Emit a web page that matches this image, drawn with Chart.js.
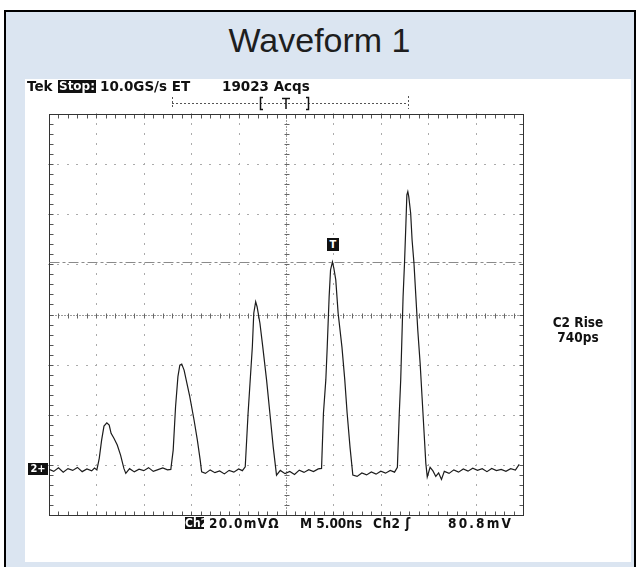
<!DOCTYPE html>
<html>
<head>
<meta charset="utf-8">
<script src="https://cdn.jsdelivr.net/npm/chart.js@4.4.0/dist/chart.umd.min.js"></script>
<style>
  html, body { margin: 0; padding: 0; background: #fff; }
  #page { position: relative; width: 639px; height: 567px; overflow: hidden; }
  #frame { position: absolute; left: 4px; top: 10px; width: 628px; height: 560px;
           background: #dbe5f1; border: 2px solid #000; border-bottom: none; }
  #panel { position: absolute; left: 25px; top: 79px; width: 606px; height: 483px; background: #fff; }
  #title { position: absolute; left: 0; width: 639px; top: 23px; text-align: center;
           font: 34px/34px "Liberation Sans", Arial, sans-serif; color: #1e1e1e; }
  canvas { position: absolute; left: 0; top: 0; }
  .lbl { position: absolute; white-space: nowrap; line-height: 14px; color: #111; }
  .top { font: bold 13.5px/14px "DejaVu Sans", sans-serif; }
  .bot { font: bold 13.5px/14px "DejaVu Sans Condensed", "DejaVu Sans", sans-serif; }
  .inv { background: #111; color: #fff; text-align: center; }
</style>
</head>
<body>
<div id="page">
  <div id="frame"></div>
  <div id="panel"></div>
  <div id="title">Waveform 1</div>
  <canvas id="scope" width="639" height="567"></canvas>

  <div class="lbl top" style="left:27px;top:79px;">Tek</div>
  <div class="lbl top inv" style="left:58px;top:80px;width:38px;height:13px;font-size:12px;line-height:13px;">Stop:</div>
  <div class="lbl top" style="left:100px;top:79px;">10.0GS/s ET</div>
  <div class="lbl top" style="left:222px;top:79px;">19023 Acqs</div>

  <div class="lbl bot inv" style="left:185px;top:517px;width:19px;height:12px;font-size:12px;line-height:12px;">Ch2</div>
  <div class="lbl bot" style="left:209px;top:516px;letter-spacing:1.2px;">20.0mVΩ</div>
  <div class="lbl bot" style="left:300px;top:516px;">M 5.00ns</div>
  <div class="lbl bot" style="left:373px;top:516px;letter-spacing:0.5px;">Ch2 ʃ</div>
  <div class="lbl bot" style="left:448px;top:516px;letter-spacing:2.2px;">80.8mV</div>

  <div class="lbl bot" style="left:540px;top:315px;width:76px;text-align:center;">C2 Rise</div>
  <div class="lbl bot" style="left:540px;top:330px;width:76px;text-align:center;">740ps</div>

  <div class="lbl bot inv" style="left:327px;top:238px;width:12px;height:13px;font-size:11px;line-height:13px;">T</div>
  <div class="lbl bot inv" style="left:28px;top:463px;width:20px;height:12px;font-size:11px;line-height:12px;">2+</div>
</div>

<script>
// Ch2 trace, time in ns (0 = screen centre), amplitude in mV
const timeNs = [
  -25.0, -24.5, -24.0, -23.5, -23.0, -22.5, -22.0, -21.5, -21.0, -20.5, -20.2,
  -19.95, -19.7, -19.45, -19.2, -18.9, -18.65, -18.45, -18.15, -17.8, -17.45, -17.1, -16.9,
  -16.5, -16.0, -15.5, -15.0, -14.5, -14.0, -13.5, -13.0, -12.5,
  -12.15, -11.9, -11.65, -11.4, -11.2, -11.0, -10.75, -10.45, -10.15, -9.7, -9.35, -9.05, -8.9,
  -8.5, -8.0, -7.5, -7.0, -6.5, -6.0, -5.5, -5.0, -4.6,
  -4.3, -4.0, -3.55, -3.4, -3.2, -3.05, -2.75, -2.45, -2.05, -1.7, -1.35, -1.0,
  -0.6, -0.1, 0.4, 0.9, 1.4, 1.9, 2.4, 2.9, 3.4,
  3.75, 3.95, 4.2, 4.35, 4.55, 4.7, 4.9, 5.05, 5.25, 5.5, 5.9, 6.2, 6.45, 6.75, 7.05,
  7.5, 8.0, 8.5, 9.0, 9.5, 10.0, 10.5, 11.0, 11.45,
  11.75, 11.95, 12.1, 12.2, 12.35, 12.5, 12.65, 12.75, 12.85, 12.95, 13.15, 13.3, 13.5, 13.7, 13.9, 14.15, 14.35, 14.55, 14.75, 14.9,
  15.2, 15.5, 15.8, 16.1, 16.4, 16.7, 17.2, 17.7, 18.2, 18.7, 19.2, 19.7, 20.2, 20.7, 21.2, 21.7, 22.2, 22.7, 23.2, 23.7, 24.2, 24.6
];
const ch2mV = [
  -1.8, -2.6, -1.2, -2.9, -1.5, -2.2, -1.0, -2.7, -1.6, -2.4, -1.3,
  -2.0, 2.6, 9.9, 15.5, 16.8, 15.9, 12.6, 10.6, 7.9, 3.9, -1.4, -3.4,
  -1.5, -2.8, -1.7, -2.3, -1.1, -2.6, -1.9, -1.2, -2.0,
  -1.8, 5.9, 23.2, 35.2, 39.8, 40.2, 37.8, 32.5, 27.2, 17.9, 9.9, 1.9, -2.8,
  -3.4, -2.0, -3.1, -2.4, -3.6, -2.2, -2.9, -1.6, -2.3,
  -0.8, 20.6, 47.1, 60.5, 65.1, 63.1, 56.5, 47.1, 33.9, 20.6, 7.2, -4.1,
  -2.2, -3.5, -2.6, -3.8, -2.1, -3.0, -1.9, -2.7, -1.6,
  -1.4, 20.6, 33.9, 47.1, 67.1, 77.8, 81.0, 78.4, 73.8, 60.5, 47.1, 33.9, 20.6, 7.2, -4.1,
  -4.6, -3.2, -4.0, -2.8, -3.7, -2.5, -3.3, -2.2, -2.9,
  -1.0, 20.6, 33.9, 47.1, 67.1, 80.4, 96.4, 107.7, 109.0, 107.0, 100.4, 89.7, 80.4, 67.1, 53.8, 40.5, 27.2, 13.9, 0.6, -4.8,
  -1.0, -2.4, -4.6, -3.2, -5.8, -2.6, -3.4, -2.0, -2.9, -1.6, -2.5, -1.3, -2.2, -1.5, -2.7, -1.4, -2.3, -1.8, -2.6, -1.5, -2.1, 0.2
];

// graticule: 10 x 5 ns, 8 x 20 mV, ground 3 div below centre
const timeDivs = [-25, -20, -15, -10, -5, 0, 5, 10, 15, 20, 25];
const voltDivs = [-20, 0, 20, 40, 60, 80, 100, 120, 140];
const centreMv = 60;
const triggerMv = 80.8;
const minorNs = 1;
const minorMv = 4;

const scopeGrid = {
  id: 'scopeGrid',
  beforeDatasetsDraw(chart) {
    const { ctx, chartArea: a, scales: { x, y } } = chart;
    const xMinor = [], yMinor = [];
    for (let t = x.min; t <= x.max + 1e-9; t += minorNs) xMinor.push(Math.round(x.getPixelForValue(t)));
    for (let v = y.min; v <= y.max + 1e-9; v += minorMv) yMinor.push(Math.round(y.getPixelForValue(v)));
    const cx = Math.round(x.getPixelForValue(0)) + 0.5;
    const cy = Math.round(y.getPixelForValue(centreMv)) + 0.5;
    const L = Math.round(a.left) + 0.5, R = Math.round(a.right) + 0.5;
    const T = Math.round(a.top) + 0.5, B = Math.round(a.bottom) + 0.5;
    ctx.save();

    // dotted division lines
    ctx.fillStyle = '#ababab';
    timeDivs.forEach(t => {
      if (t === 0 || t === x.min || t === x.max) return;
      const px = Math.round(x.getPixelForValue(t));
      yMinor.forEach(py => ctx.fillRect(px, py - 1, 1, 2));
    });
    voltDivs.forEach(v => {
      if (v === centreMv || v === y.min || v === y.max) return;
      const py = Math.round(y.getPixelForValue(v));
      xMinor.forEach(px => ctx.fillRect(px - 1, py, 2, 1));
    });

    // centre cross with minor ticks
    ctx.strokeStyle = '#3c3c3c';
    ctx.lineWidth = 1;
    ctx.setLineDash([1, 2]);
    ctx.beginPath();
    ctx.moveTo(cx, T); ctx.lineTo(cx, B);
    ctx.moveTo(L, cy); ctx.lineTo(R, cy);
    ctx.stroke();
    ctx.setLineDash([]);
    ctx.strokeStyle = '#666';
    ctx.beginPath();
    yMinor.forEach(py => { ctx.moveTo(cx - 2, py + 0.5); ctx.lineTo(cx + 3, py + 0.5); });
    xMinor.forEach(px => { ctx.moveTo(px + 0.5, cy - 2); ctx.lineTo(px + 0.5, cy + 3); });
    ctx.stroke();

    // border ticks
    ctx.strokeStyle = '#555';
    ctx.beginPath();
    xMinor.forEach(px => {
      ctx.moveTo(px + 0.5, T); ctx.lineTo(px + 0.5, T + 4);
      ctx.moveTo(px + 0.5, B); ctx.lineTo(px + 0.5, B - 4);
    });
    yMinor.forEach(py => {
      ctx.moveTo(L, py + 0.5); ctx.lineTo(L + 4, py + 0.5);
      ctx.moveTo(R, py + 0.5); ctx.lineTo(R - 4, py + 0.5);
    });
    ctx.stroke();
    ctx.strokeStyle = '#333';
    ctx.strokeRect(L, T, R - L, B - T);

    // trigger level
    const ty = Math.round(y.getPixelForValue(triggerMv)) + 0.5;
    ctx.strokeStyle = '#8a8a8a';
    ctx.setLineDash([10, 3, 3, 3]);
    ctx.beginPath();
    ctx.moveTo(L, ty); ctx.lineTo(R, ty);
    ctx.stroke();
    ctx.setLineDash([]);

    // record bar above the graticule
    ctx.strokeStyle = '#555';
    ctx.setLineDash([2, 2]);
    ctx.beginPath();
    ctx.moveTo(172, 103.5); ctx.lineTo(408, 103.5);
    ctx.moveTo(172.5, 97); ctx.lineTo(172.5, 109);
    ctx.moveTo(408.5, 96); ctx.lineTo(408.5, 109);
    ctx.stroke();
    ctx.setLineDash([]);
    ctx.strokeStyle = '#111';
    ctx.lineWidth = 1.5;
    ctx.beginPath();
    ctx.moveTo(263, 97.5); ctx.lineTo(260.5, 97.5); ctx.lineTo(260.5, 109.5); ctx.lineTo(263, 109.5);
    ctx.moveTo(306, 97.5); ctx.lineTo(308.5, 97.5); ctx.lineTo(308.5, 109.5); ctx.lineTo(306, 109.5);
    ctx.moveTo(282, 98.5); ctx.lineTo(290, 98.5);
    ctx.moveTo(286, 98.5); ctx.lineTo(286, 109);
    ctx.stroke();
    ctx.restore();
  }
};

new Chart(document.getElementById('scope'), {
  type: 'scatter',
  data: {
    datasets: [{
      data: timeNs.map((t, i) => ({ x: t, y: ch2mV[i] })),
      showLine: true,
      borderColor: '#1c1c1c',
      borderWidth: 1.2,
      pointRadius: 0,
      tension: 0
    }]
  },
  options: {
    responsive: false,
    animation: false,
    layout: { padding: { left: 49, right: 116, top: 114, bottom: 52 } },
    plugins: { legend: { display: false }, tooltip: { enabled: false } },
    scales: {
      x: { type: 'linear', min: -25, max: 25, display: false },
      y: { type: 'linear', min: -20, max: 140, display: false }
    }
  },
  plugins: [scopeGrid]
});
</script>
</body>
</html>
